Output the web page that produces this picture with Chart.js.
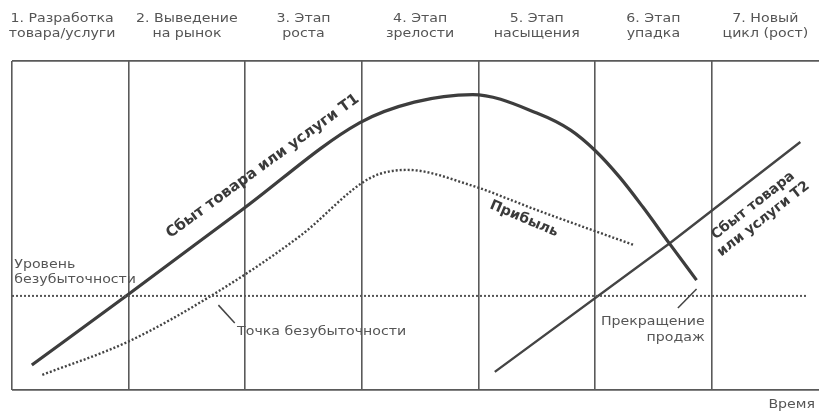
<!DOCTYPE html>
<html lang="ru">
<head>
    <meta charset="UTF-8">
    <title>Жизненный цикл товара</title>
    <script src="https://cdn.jsdelivr.net/npm/chart.js"></script>
    <style>
        body {
            margin: 0;
            padding: 0;
            background-color: #fff;
        }
        .chart-box {
            width: 819px;
            height: 417px;
        }
    </style>
</head>
<body>
    <div class="chart-box">
        <canvas id="lifeCycleChart"></canvas>
    </div>

    <script>
        // x in stage units (one column = 1), y in % of plot height
        const stageBounds = [0, 1, 2, 3, 4, 5, 6];
        const xMax = 6.92;
        const stageLabels = [
            ['1. Разработка', 'товара/услуги'],
            ['2. Выведение', 'на рынок'],
            ['3. Этап', 'роста'],
            ['4. Этап', 'зрелости'],
            ['5. Этап', 'насыщения'],
            ['6. Этап', 'упадка'],
            ['7. Новый', 'цикл (рост)']
        ];

        const salesT1X = [0.17, 0.99, 1.97, 2.98, 3.45, 3.95, 4.50, 4.79, 5.00, 5.21, 5.41, 5.64, 5.87];
        const salesT1Y = [7.6, 28.9, 54.7, 81.2, 87.5, 89.8, 84.2, 79.0, 72.8, 64.7, 55.6, 44.4, 33.4];

        const profitX = [0.26, 0.99, 1.72, 2.47, 3.07, 3.39, 3.93, 4.50, 5.33];
        const profitY = [4.6, 14.6, 28.9, 46.8, 64.4, 66.9, 62.3, 54.7, 44.1];

        const salesT2X = [4.14, 5.64, 6.76];
        const salesT2Y = [5.5, 44.6, 75.4];

        const breakEvenLevel = 28.6;
        const breakEvenX = [0, 6.82];

        const toPoints = (xs, ys) => xs.map((v, i) => ({ x: v, y: ys[i] }));

        const textFont = '12px "DejaVu Sans", sans-serif';
        const stretch = 1.18;

        // text drawn on top of the plot, placed in data units
        const notes = [
            { lines: ['Уровень', 'безубыточности'], u: 0.02, v: 35.7, align: 'left', gap: 15 },
            { lines: ['Точка безубыточности'], u: 1.93, v: 17.6, align: 'left' },
            { lines: ['Прекращение', 'продаж'], u: 5.94, v: 18.2, align: 'right', gap: 16 }
        ];
        const boldNotes = [
            { lines: ['Сбыт товара или услуги Т1'], u: 2.15, v: 68.0, angle: -36, size: 15 },
            { lines: ['Прибыль'], u: 4.39, v: 52.0, angle: 23, size: 14 },
            { lines: ['Сбыт товара', 'или услуги Т2'], u: 6.40, v: 54.0, angle: -38, size: 14, gap: 17 }
        ];
        const pointers = [
            [[1.77, 25.8], [1.91, 20.4]],
            [[5.71, 24.9], [5.87, 30.7]]
        ];

        function drawStretched(ctx, text, px, py, align) {
            ctx.save();
            ctx.translate(px, py);
            ctx.scale(stretch, 1);
            ctx.textAlign = align;
            ctx.textBaseline = 'middle';
            ctx.fillText(text, 0, 0);
            ctx.restore();
        }

        const diagramText = {
            id: 'diagramText',
            afterDatasetsDraw(chart) {
                const { ctx, scales: { x, y } } = chart;
                ctx.save();
                ctx.fillStyle = '#555';
                ctx.font = textFont;

                const bounds = stageBounds.concat([xMax]);
                stageLabels.forEach((lines, i) => {
                    let mid = (bounds[i] + bounds[i + 1]) / 2;
                    if (i === 0) mid = 0.43;
                    const cx = x.getPixelForValue(mid);
                    lines.forEach((line, j) => drawStretched(ctx, line, cx, 19 + j * 15, 'center'));
                });

                notes.forEach(n => {
                    const gap = n.gap || 0;
                    const top = y.getPixelForValue(n.v) - gap * (n.lines.length - 1) / 2;
                    n.lines.forEach((line, j) => drawStretched(ctx, line, x.getPixelForValue(n.u), top + j * gap, n.align));
                });

                drawStretched(ctx, 'Время', 815, 405, 'right');

                ctx.strokeStyle = '#444';
                ctx.lineWidth = 1.5;
                pointers.forEach(p => {
                    ctx.beginPath();
                    ctx.moveTo(x.getPixelForValue(p[0][0]), y.getPixelForValue(p[0][1]));
                    ctx.lineTo(x.getPixelForValue(p[1][0]), y.getPixelForValue(p[1][1]));
                    ctx.stroke();
                });

                ctx.fillStyle = '#3a3a3a';
                boldNotes.forEach(n => {
                    const gap = n.gap || 0;
                    ctx.save();
                    ctx.translate(x.getPixelForValue(n.u), y.getPixelForValue(n.v));
                    ctx.rotate(n.angle * Math.PI / 180);
                    ctx.font = 'bold ' + n.size + 'px "DejaVu Sans", sans-serif';
                    ctx.textAlign = 'center';
                    ctx.textBaseline = 'middle';
                    n.lines.forEach((line, j) => {
                        ctx.fillText(line, 0, (j - (n.lines.length - 1) / 2) * gap);
                    });
                    ctx.restore();
                });
                ctx.restore();
            }
        };

        new Chart(document.getElementById('lifeCycleChart'), {
            type: 'line',
            data: {
                datasets: [
                    {
                        label: 'Уровень безубыточности',
                        data: toPoints(breakEvenX, breakEvenX.map(() => breakEvenLevel)),
                        borderColor: '#555',
                        borderWidth: 2,
                        borderDash: [2, 2],
                        pointRadius: 0
                    },
                    {
                        label: 'Сбыт товара или услуги Т1',
                        data: toPoints(salesT1X, salesT1Y),
                        borderColor: '#3d3d3d',
                        borderWidth: 3.2,
                        cubicInterpolationMode: 'monotone',
                        pointRadius: 0
                    },
                    {
                        label: 'Прибыль',
                        data: toPoints(profitX, profitY),
                        borderColor: '#444',
                        borderWidth: 2.4,
                        borderDash: [2, 2],
                        cubicInterpolationMode: 'monotone',
                        pointRadius: 0
                    },
                    {
                        label: 'Сбыт товара или услуги Т2',
                        data: toPoints(salesT2X, salesT2Y),
                        borderColor: '#444',
                        borderWidth: 2.4,
                        tension: 0,
                        pointRadius: 0
                    }
                ]
            },
            options: {
                responsive: true,
                maintainAspectRatio: false,
                animation: false,
                layout: {
                    padding: { left: 12, top: 61, right: 0, bottom: 27 }
                },
                plugins: {
                    legend: { display: false },
                    tooltip: { enabled: false }
                },
                scales: {
                    x: {
                        type: 'linear',
                        min: 0,
                        max: xMax,
                        afterBuildTicks: axis => { axis.ticks = stageBounds.map(v => ({ value: v })); },
                        ticks: { display: false },
                        grid: { color: '#5a5a5a', lineWidth: 1.6, drawTicks: false },
                        border: { display: false }
                    },
                    y: {
                        min: 0,
                        max: 100,
                        afterBuildTicks: axis => { axis.ticks = [{ value: 0 }, { value: 100 }]; },
                        ticks: { display: false },
                        grid: { color: '#5a5a5a', lineWidth: 1.8, drawTicks: false },
                        border: { display: false }
                    }
                }
            },
            plugins: [diagramText]
        });
    </script>
</body>
</html>
